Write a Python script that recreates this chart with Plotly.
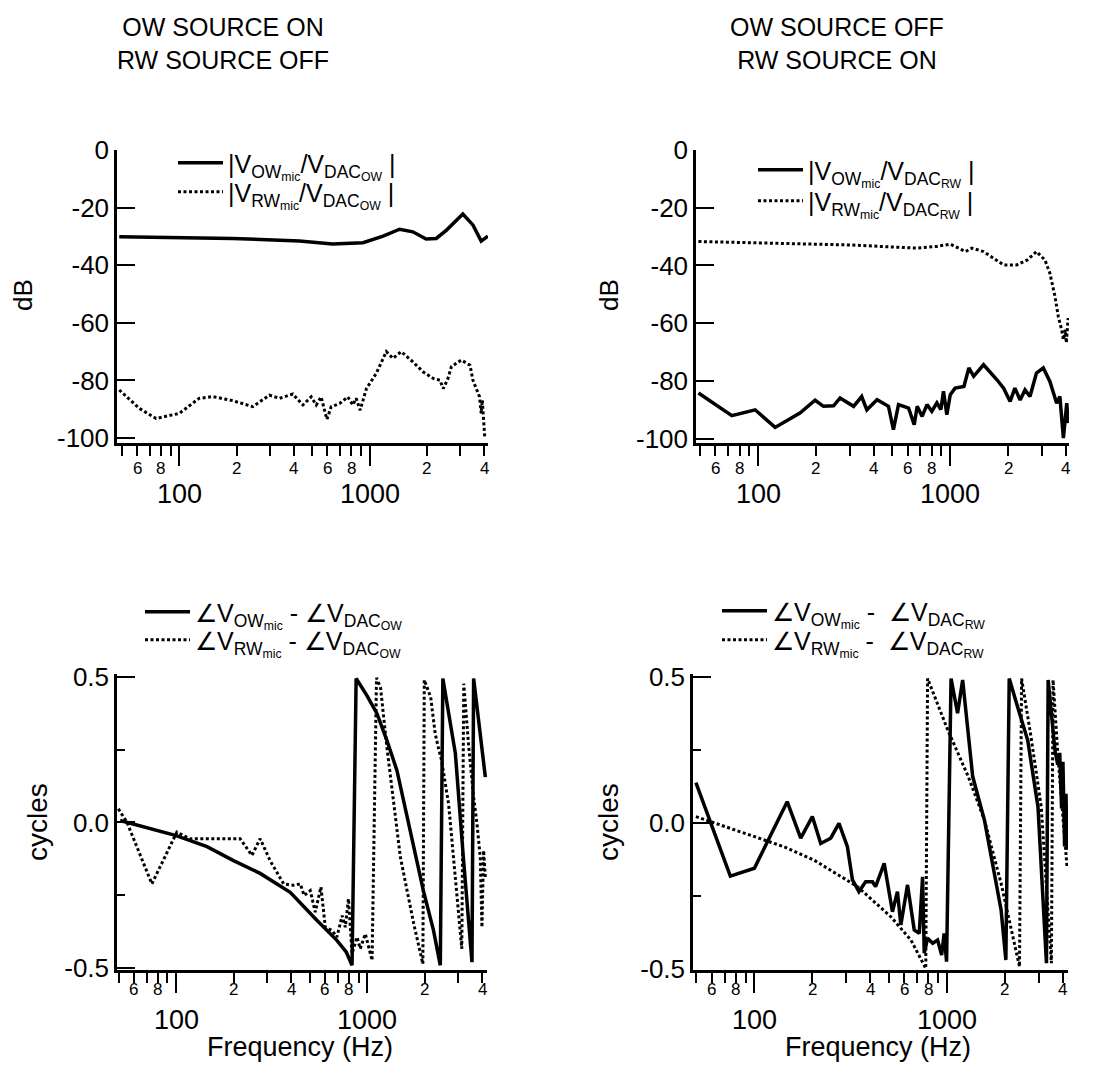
import numpy as np
import plotly.graph_objects as go

# ---------------- magnitude, OW source on / RW source off ----------------
mag_a_ow_f = [48.3, 100, 190, 428, 638, 923, 1177, 1438, 1687, 1982, 2240, 2536, 3090, 3490, 3860, 4185]
mag_a_ow_db = [-30.1, -30.4, -30.7, -31.6, -32.6, -32.2, -29.9, -27.5, -28.4, -30.9, -30.7, -27.8, -22.2, -26.0, -31.6, -29.9]

mag_a_rw_f = [48.3, 61.6, 75.4, 100, 127, 150, 191, 243, 297, 336, 395, 446, 493, 524, 556, 596, 628,
              696, 768, 816, 849, 892, 962, 1085, 1224, 1325, 1466, 1687, 1910, 2160, 2340, 2440, 2580,
              2690, 3030, 3220, 3370, 3490, 3780, 3860, 3910, 3980, 4030]
mag_a_rw_db = [-83.3, -89.7, -93.2, -91.4, -86.2, -85.6, -87.0, -89.1, -85.1, -86.2, -84.7, -88.5, -85.7, -88.5,
               -85.7, -93.5, -89.1, -88.0, -85.7, -88.5, -86.2, -90.3, -82.8, -77.5, -70.0, -72.3, -70.0, -73.5,
               -77.0, -79.3, -79.9, -82.8, -79.3, -75.2, -72.9, -74.1, -74.7, -79.9, -85.6, -91.4, -86.8, -94.5,
               -100.0]

# ---------------- magnitude, OW source off / RW source on ----------------
mag_b_ow_f = [48.9, 73, 96.5, 122.6, 165, 198, 219, 247, 267, 314, 346, 368, 416, 477, 506, 538, 607, 649,
              673, 714, 757, 802, 852, 894, 922, 960, 1000, 1060, 1178, 1250, 1324, 1490, 1750, 1895, 2050,
              2170, 2310, 2450, 2600, 2810, 3050, 3300, 3580, 3720, 3880, 4040, 4110]
mag_b_ow_db = [-84.2, -92.0, -90.0, -96.1, -91.1, -86.7, -88.8, -88.6, -85.9, -88.8, -85.4, -90.0, -86.5, -88.8,
               -96.9, -88.2, -89.4, -95.2, -88.8, -92.3, -88.2, -90.5, -87.6, -89.9, -83.6, -91.7, -84.8, -82.5,
               -81.9, -75.5, -78.4, -74.4, -79.6, -82.5, -87.1, -82.5, -86.6, -83.1, -85.4, -77.3, -75.5, -80.2,
               -87.7, -85.4, -99.8, -87.7, -94.6]

mag_b_rw_f = [48.9, 135, 301, 673, 852, 1000, 1200, 1295, 1490, 1895, 2220, 2520, 2810, 3110, 3300, 3510,
              3650, 3800, 3880, 3970, 4020, 4110]
mag_b_rw_db = [-31.7, -32.3, -32.9, -34.0, -33.4, -32.6, -35.2, -34.0, -35.2, -39.8, -39.8, -38.1, -35.2, -38.1,
               -42.7, -50.8, -57.7, -62.3, -65.7, -62.3, -66.8, -58.2]

# ---------------- phase, OW source on / RW source off ----------------
ph_a_ow_f = [50.9, 100, 145, 199.5, 275, 395, 546, 693, 777, 832, 874, 996, 1124, 1266, 1429, 1680, 1965,
             2220, 2410, 2485, 2890, 3180, 3530, 3600, 4146]
ph_a_ow_cyc = [0.007, -0.045, -0.083, -0.131, -0.175, -0.24, -0.337, -0.405, -0.446, -0.491, 0.495, 0.436,
               0.374, 0.282, 0.179, -0.027, -0.234, -0.371, -0.491, 0.495, 0.237, -0.119, -0.48, 0.495, 0.156]

ph_a_rw_f = [49.8, 55.2, 74.6, 100.8, 118, 216, 249, 275, 310, 365, 411, 446, 467, 503, 534, 572, 603, 654,
             693, 739, 767, 797, 832, 884, 918, 977, 1059, 1117, 1172, 1266, 1489, 1750, 1953, 1987, 2147,
             2266, 2350, 2448, 2663, 3122, 3197, 3384, 3600, 3750, 3900, 3980, 4060, 4146]
ph_a_rw_cyc = [0.047, 0.001, -0.211, -0.033, -0.056, -0.056, -0.113, -0.056, -0.131, -0.211, -0.216, -0.211,
               -0.251, -0.234, -0.308, -0.222, -0.36, -0.371, -0.394, -0.32, -0.36, -0.262, -0.451, -0.394,
               -0.434, -0.383, -0.474, 0.497, 0.465, 0.259, -0.119, -0.348, -0.486, 0.49, 0.43, 0.305, 0.259,
               0.213, 0.064, -0.434, 0.477, 0.27, 0.087, -0.005, -0.119, -0.36, -0.096, -0.188]

# ---------------- phase, OW source off / RW source on ----------------
ph_b_ow_f = [49.7, 75, 100, 148, 174, 200, 221, 249, 275, 304, 323, 349, 378, 410, 426, 472, 521, 553, 576,
             624, 676, 718, 747, 762, 793, 843, 894, 938, 967, 995, 1050, 1135, 1206, 1360, 1565, 1910, 2022,
             2105, 2325, 2624, 2968, 3285, 3352, 3634, 3760, 3850, 3936, 4000, 4080, 4150, 4200]
ph_b_ow_cyc = [0.138, -0.182, -0.155, 0.073, -0.052, 0.022, -0.07, -0.052, -0.001, -0.081, -0.195, -0.235,
               -0.201, -0.201, -0.218, -0.138, -0.304, -0.235, -0.349, -0.212, -0.366, -0.378, -0.184, -0.446,
               -0.395, -0.412, -0.401, -0.452, -0.378, -0.475, 0.495, 0.376, 0.49, 0.159, 0.01, -0.298, -0.469,
               0.495, 0.398, 0.284, 0.056, -0.48, 0.49, 0.25, 0.2, 0.24, 0.05, 0.21, -0.08, 0.1, -0.092]

ph_b_rw_f = [49.7, 100, 142, 204, 343, 511, 650, 776, 793, 1010, 1290, 1565, 1910, 2380, 2440, 2730, 3086,
             3485, 3555, 3770, 4010, 4200]
ph_b_rw_cyc = [0.022, -0.047, -0.081, -0.127, -0.218, -0.321, -0.401, -0.498, 0.495, 0.318, 0.159, 0.01,
               -0.207, -0.492, 0.495, 0.296, 0.056, -0.48, 0.49, 0.227, 0.0, -0.15]

# ---------------- axis ticks ----------------
minor_freqs = [50, 60, 70, 80, 90, 200, 300, 400, 500, 600, 700, 800, 900, 2000, 3000, 4000]
minor_labels = ["", "6", "", "8", "", "2", "", "4", "", "6", "", "8", "", "2", "", "4"]
decade_freqs = [100, 1000]
decade_labels = ["100", "1000"]
db_ticks = [0, -20, -40, -60, -80, -100]
db_labels = ["0", "-20", "-40", "-60", "-80", "-100"]
cyc_ticks = [0.5, 0.0, -0.5]
cyc_labels = ["0.5", "0.0", "-0.5"]
cyc_minor = [0.25, -0.25]

W, H = 1094, 1069
FONT = "Liberation Sans, Arial, Helvetica, sans-serif"


def fx(p):
    return p / W


def fy(p):
    return 1 - p / H


SOLID = dict(color="black", width=3.5)
DOTTED = dict(color="black", width=3, dash="3px,2.5px")

fig = go.Figure()

OW_MAG_A = "|V<sub>OW<sub>mic</sub></sub>/V<sub>DAC<sub>OW</sub></sub> |"
RW_MAG_A = "|V<sub>RW<sub>mic</sub></sub>/V<sub>DAC<sub>OW</sub></sub> |"
OW_MAG_B = "|V<sub>OW<sub>mic</sub></sub>/V<sub>DAC<sub>RW</sub></sub> |"
RW_MAG_B = "|V<sub>RW<sub>mic</sub></sub>/V<sub>DAC<sub>RW</sub></sub> |"
OW_PH_A = "\u2220V<sub>OW<sub>mic</sub></sub> - \u2220V<sub>DAC<sub>OW</sub></sub>"
RW_PH_A = "\u2220V<sub>RW<sub>mic</sub></sub> - \u2220V<sub>DAC<sub>OW</sub></sub>"
OW_PH_B = "\u2220V<sub>OW<sub>mic</sub></sub> -  \u2220V<sub>DAC<sub>RW</sub></sub>"
RW_PH_B = "\u2220V<sub>RW<sub>mic</sub></sub> -  \u2220V<sub>DAC<sub>RW</sub></sub>"

# each legend entry gets its own legend box so the row spacing can be set freely
traces = [
    (mag_a_ow_f, mag_a_ow_db, SOLID, OW_MAG_A, "x", "y", "legend"),
    (mag_a_rw_f, mag_a_rw_db, DOTTED, RW_MAG_A, "x", "y", "legend5"),
    (mag_b_ow_f, mag_b_ow_db, SOLID, OW_MAG_B, "x2", "y2", "legend2"),
    (mag_b_rw_f, mag_b_rw_db, DOTTED, RW_MAG_B, "x2", "y2", "legend6"),
    (ph_a_ow_f, ph_a_ow_cyc, SOLID, OW_PH_A, "x3", "y3", "legend3"),
    (ph_a_rw_f, ph_a_rw_cyc, DOTTED, RW_PH_A, "x3", "y3", "legend7"),
    (ph_b_ow_f, ph_b_ow_cyc, SOLID, OW_PH_B, "x4", "y4", "legend4"),
    (ph_b_rw_f, ph_b_rw_cyc, DOTTED, RW_PH_B, "x4", "y4", "legend8"),
]
for xs, ys, ln, name, xa, ya, lg in traces:
    fig.add_trace(go.Scatter(x=xs, y=ys, mode="lines", line=ln, name=name,
                             xaxis=xa, yaxis=ya, legend=lg, showlegend=True))

# panel geometry in pixels: (x0, x1) and (y_top, y_bottom)
panels = {
    1: dict(px=(117, 488), py=(150, 443), xr=(47.0, 4190), yr=(-101.7, 0)),
    2: dict(px=(696, 1069), py=(150, 443), xr=(47.5, 4150), yr=(-101.5, 0)),
    3: dict(px=(117, 487), py=(674, 970), xr=(49.0, 4230), yr=(-0.507, 0.5103)),
    4: dict(px=(693, 1068), py=(674, 970), xr=(48.0, 4250), yr=(-0.5034, 0.5103)),
}

for i, p in panels.items():
    sfx = "" if i == 1 else str(i)
    is_mag = i in (1, 2)
    fig.layout["xaxis" + sfx] = dict(
        type="log", domain=[fx(p["px"][0]), fx(p["px"][1])],
        range=[np.log10(p["xr"][0]), np.log10(p["xr"][1])],
        anchor="y" + sfx, showgrid=False, zeroline=False, automargin=False,
        showline=True, linecolor="black", linewidth=2.5,
        ticks="outside", ticklen=10, tickwidth=2, tickcolor="black",
        tickmode="array", tickvals=minor_freqs, showticklabels=False,
        minor=dict(tickmode="array", tickvals=decade_freqs, ticks="outside",
                   ticklen=20, tickwidth=2, tickcolor="black", showgrid=False),
        fixedrange=True,
    )
    fig.layout["yaxis" + sfx] = dict(
        domain=[fy(p["py"][1]), fy(p["py"][0])],
        range=list(p["yr"]), anchor="x" + sfx, showgrid=False, zeroline=False, automargin=False,
        showline=True, linecolor="black", linewidth=2.5,
        ticks="inside", ticklen=18, tickwidth=2, tickcolor="black",
        tickmode="array",
        tickvals=db_ticks if is_mag else cyc_ticks,
        ticktext=db_labels if is_mag else cyc_labels,
        tickfont=dict(family=FONT, size=26, color="black"),
        ticklabelstandoff=0,
        minor=(dict() if is_mag else dict(tickmode="array", tickvals=cyc_minor, ticks="inside",
                                           ticklen=8, tickwidth=2, tickcolor="black", showgrid=False)),
        fixedrange=True,
    )

legend_common = dict(xanchor="left", yanchor="top", bgcolor="rgba(0,0,0,0)", borderwidth=0,
                     font=dict(family=FONT, size=25, color="black"), itemwidth=45,
                     tracegroupgap=0)
fig.update_layout(
    legend=dict(x=fx(173), y=fy(140), **legend_common),
    legend5=dict(x=fx(173), y=fy(169), **legend_common),
    legend2=dict(x=fx(753), y=fy(147), **legend_common),
    legend6=dict(x=fx(753), y=fy(178), **legend_common),
    legend3=dict(x=fx(140), y=fy(589), **legend_common),
    legend7=dict(x=fx(140), y=fy(617), **legend_common),
    legend4=dict(x=fx(717), y=fy(588), **legend_common),
    legend8=dict(x=fx(717), y=fy(617), **legend_common),
)

annotations = []
# panel titles
for cx, txt in [(223, "OW SOURCE ON<br>RW SOURCE OFF"), (837, "OW SOURCE OFF<br>RW SOURCE ON")]:
    annotations.append(dict(x=fx(cx), y=fy(44), xref="paper", yref="paper", text=txt, showarrow=False,
                            xanchor="center", yanchor="middle", align="center",
                            font=dict(family=FONT, size=25, color="black")))
# y-axis titles
for cx, cy, txt, sz in [(23, 295, "dB", 26), (609, 295, "dB", 26), (37, 822, "cycles", 28), (608, 822, "cycles", 28)]:
    annotations.append(dict(x=fx(cx), y=fy(cy), xref="paper", yref="paper", text=txt, showarrow=False,
                            textangle=-90, xanchor="center", yanchor="middle",
                            font=dict(family=FONT, size=sz, color="black")))
# two-row frequency tick labels: mantissa digits, then the decade values below
for i, p in panels.items():
    sfx = "" if i == 1 else str(i)
    row1 = 469 if i in (1, 2) else 989
    row2 = 494 if i in (1, 2) else 1020
    for fv, lab in zip(minor_freqs, minor_labels):
        if lab:
            annotations.append(dict(x=np.log10(fv), y=fy(row1), xref="x" + sfx, yref="paper", text=lab,
                                    showarrow=False, xanchor="center", yanchor="middle",
                                    font=dict(family=FONT, size=17, color="black")))
    for fv, lab in zip(decade_freqs, decade_labels):
        annotations.append(dict(x=np.log10(fv), y=fy(row2), xref="x" + sfx, yref="paper", text=lab,
                                showarrow=False, xanchor="center", yanchor="middle",
                                font=dict(family=FONT, size=27, color="black")))
# frequency axis titles
for cx in (300, 878):
    annotations.append(dict(x=fx(cx), y=fy(1047), xref="paper", yref="paper", text="Frequency (Hz)",
                            showarrow=False, xanchor="center", yanchor="middle",
                            font=dict(family=FONT, size=27, color="black")))

fig.update_layout(
    template="none",
    annotations=annotations,
    width=W, height=H, autosize=False,
    margin=dict(l=0, r=0, t=0, b=0, pad=0),
    paper_bgcolor="white", plot_bgcolor="white",
    font=dict(family=FONT, color="black"),
)

fig.write_html("out.html")
